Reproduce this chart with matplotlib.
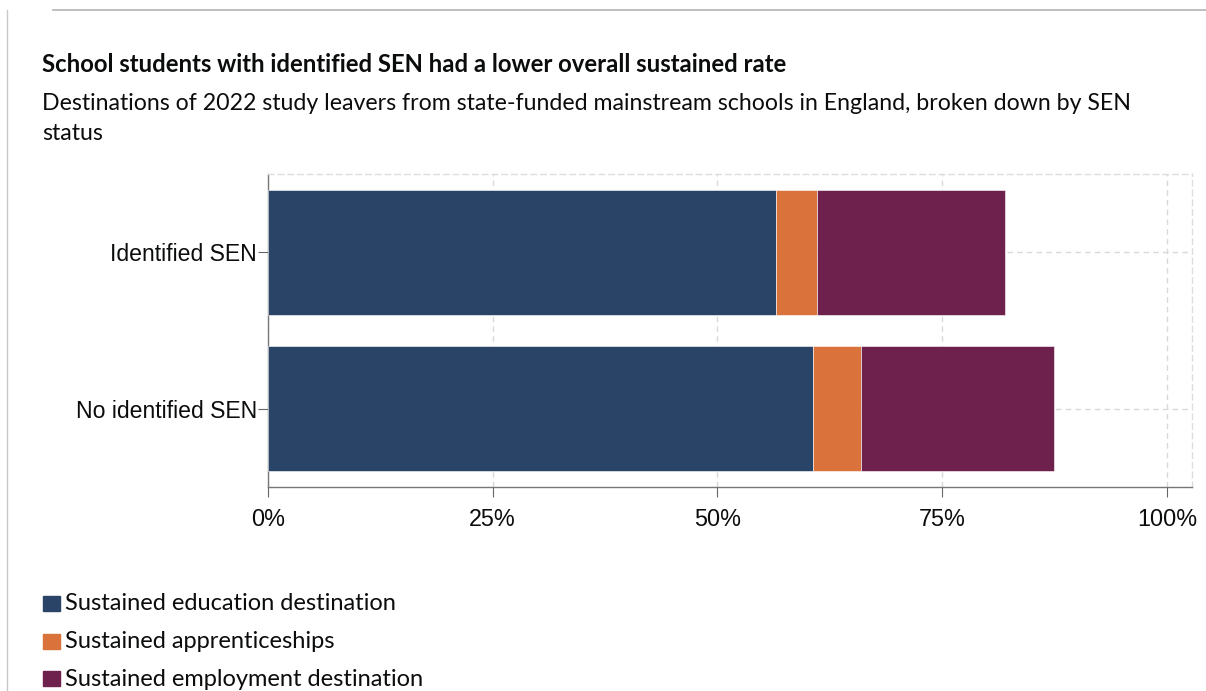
import matplotlib
matplotlib.use("Agg")
import matplotlib.pyplot as plt
from matplotlib.patches import Rectangle
from matplotlib.lines import Line2D

categories = ["Identified SEN", "No identified SEN"]
series_names = ["Sustained education destination", "Sustained apprenticeships",
                "Sustained employment destination"]
education = [56.5, 60.6]
apprenticeships = [4.6, 5.4]
employment = [20.9, 21.5]
colors = ["#2a4467", "#d9723b", "#6f214e"]
xticks = [0, 25, 50, 75, 100]
xticklabels = ["0%", "25%", "50%", "75%", "100%"]

title = "School students with identified SEN had a lower overall sustained rate"
subtitle = ("Destinations of 2022 study leavers from state-funded mainstream schools in England, broken down by SEN\n"
            "status")

W, H = 1206, 691
fig = plt.figure(figsize=(W / 100, H / 100), dpi=100)
txt = "#0b0c0c"

def fx(px):
    return px / W

def fy(py):
    return 1 - py / H

# page decorations
fig.add_artist(Line2D([fx(7), fx(7)], [fy(10), 0], color="#c8c8c8", lw=1))
fig.add_artist(Line2D([fx(53), 1], [fy(10), fy(10)], color="#b1b4b6", lw=1.2))

fig.text(fx(42), fy(64), title, fontsize=17.2, fontweight="bold", family="Lato",
         color=txt, va="center", ha="left")
fig.text(fx(42), fy(103), subtitle.split("\n")[0], fontsize=16.7, family="Lato", color=txt,
         va="center", ha="left")
fig.text(fx(42), fy(133), subtitle.split("\n")[1], fontsize=16.7, family="Lato", color=txt,
         va="center", ha="left")

ax = fig.add_axes([fx(268), fy(487), fx(1192) - fx(268), fy(174) - fy(487)])
y = list(range(len(categories)))
left = [0] * len(categories)
for vals, c, name in zip([education, apprenticeships, employment], colors, series_names):
    ax.barh(y, vals, left=left, height=0.8, color=c, edgecolor="#ffffff", linewidth=0.4,
            label=name, zorder=3)
    left = [l + v for l, v in zip(left, vals)]

ax.set_xlim(0, 102.8)
ax.set_ylim(1.5, -0.5)
ax.set_yticks(y)
ax.set_yticklabels(categories, family="Liberation Sans", fontsize=16.6, color=txt)
ax.set_xticks(xticks)
ax.set_xticklabels(xticklabels, family="Liberation Sans", fontsize=16.8, color=txt)
ax.tick_params(axis="x", length=7, color="#666666", pad=8)
ax.tick_params(axis="y", length=7, color="#666666", pad=1)

grid_kw = dict(color="#d9d9d9", lw=1, ls=(0, (4, 3)), zorder=0)
for xt in xticks:
    ax.axvline(xt, **grid_kw)
for yt in y:
    ax.axhline(yt, **grid_kw)

for s in ["top", "right"]:
    ax.spines[s].set_color("#dddddd")
    ax.spines[s].set_linestyle((0, (4, 3)))
    ax.spines[s].set_linewidth(1)
for s in ["left", "bottom"]:
    ax.spines[s].set_color("#777777")
    ax.spines[s].set_linewidth(1)

# legend
for i, (name, c) in enumerate(zip(series_names, colors)):
    yc = 604 + i * 37.5
    fig.add_artist(Rectangle((fx(43), fy(yc + 7)), fx(17), (15) / H, color=c,
                             transform=fig.transFigure))
    fig.text(fx(65), fy(yc), name, fontsize=17, family="Lato", color=txt,
             va="center", ha="left")

fig.savefig("out.png", dpi=100)
